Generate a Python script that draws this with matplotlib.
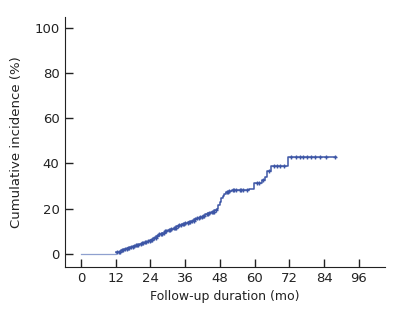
import matplotlib
matplotlib.use('Agg')
import matplotlib.pyplot as plt
import numpy as np

# Cumulative incidence curve (step function)
event_mo = [0, 12.2, 13, 14, 15, 16, 17, 18, 19, 20, 21, 22, 23, 24, 25, 26, 27,
            28, 29, 30, 31, 32, 33, 34, 35, 36, 37, 38, 39, 40, 41, 42, 43, 44,
            45, 46, 47, 47.5, 48, 48.5, 49, 49.5, 50, 51, 52, 58, 59.8, 62.5,
            63.5, 64.3, 65.8, 71.6, 88]
incidence = [0, 0.6, 1.0, 1.5, 2.0, 2.4, 2.9, 3.3, 3.7, 4.2, 4.7, 5.2, 5.7, 6.3,
             7.0, 7.8, 8.6, 9.3, 9.9, 10.4, 10.9, 11.5, 12.1, 12.6, 13.1, 13.6,
             14.2, 14.7, 15.2, 15.8, 16.4, 16.9, 17.5, 18.1, 18.7, 19.2, 19.8,
             21.5, 23.0, 24.5, 25.6, 26.5, 27.3, 27.8, 28.4, 28.8, 31.3, 32.6,
             34.2, 36.8, 39.0, 43.0, 43.0]

# Censored observations (mo)
censor_mo = [12.5, 13.0, 13.6, 14.2, 14.7, 15.1, 15.8, 16.3, 16.6, 17.4, 17.9,
             18.3, 19.1, 19.5, 19.8, 20.6, 21.0, 21.4, 22.2, 22.6, 23.0, 23.8,
             24.2, 24.6, 25.4, 25.8, 26.2, 27.1, 27.5, 27.9, 28.7, 29.1, 29.5,
             30.3, 30.7, 31.2, 32.0, 32.4, 32.8, 33.6, 34.0, 34.4, 35.3, 35.7,
             36.1, 36.9, 37.3, 37.7, 38.5, 38.9, 39.4, 40.2, 40.6, 41.0, 41.8,
             42.2, 42.6, 43.5, 43.9, 44.3, 45.1, 45.5, 45.9, 46.5, 50.3, 50.8,
             51.2, 52.5, 53.0, 53.6, 54.8, 55.4, 56.0, 57.2, 60.8, 61.6, 63.0,
             64.8, 66.5, 67.6, 68.8, 70.0, 72.6, 74.2, 75.6, 76.8, 78.2, 79.6,
             80.8, 82.6, 84.6, 87.6]

x_ticks = [0, 12, 24, 36, 48, 60, 72, 84, 96]
y_ticks = [0, 20, 40, 60, 80, 100]

col = '#3d56a6'

fig = plt.figure(figsize=(4, 3.2), dpi=100)
ax = fig.add_axes([0.1625, 0.166, 0.8, 0.781])

ax.step(event_mo[:2], incidence[:2], where='post', color='#8fa0cf', linewidth=0.9)
ax.step(event_mo[1:], incidence[1:], where='post', color=col, linewidth=1.1)
idx = np.searchsorted(event_mo, censor_mo, side='right') - 1
censor_y = np.array(incidence)[idx]
ax.plot(censor_mo, censor_y, '+', color=col, markersize=3, markeredgewidth=1.0)

ax.set_xlim(-5.5, 105)
ax.set_ylim(-5.8, 104.9)
ax.set_xticks(x_ticks)
ax.set_yticks(y_ticks)
ax.tick_params(direction='in', length=6, width=1, labelsize=9.5, colors='#222222', pad=4)
for s in ['top', 'right']:
    ax.spines[s].set_visible(False)
for s in ['left', 'bottom']:
    ax.spines[s].set_color('#222222')
ax.set_xlabel('Follow-up duration (mo)', fontsize=9, color='#222222', labelpad=3)
ax.set_ylabel('Cumulative incidence (%)', fontsize=9.5, color='#222222', labelpad=8)

fig.savefig('out.png', dpi=100)
